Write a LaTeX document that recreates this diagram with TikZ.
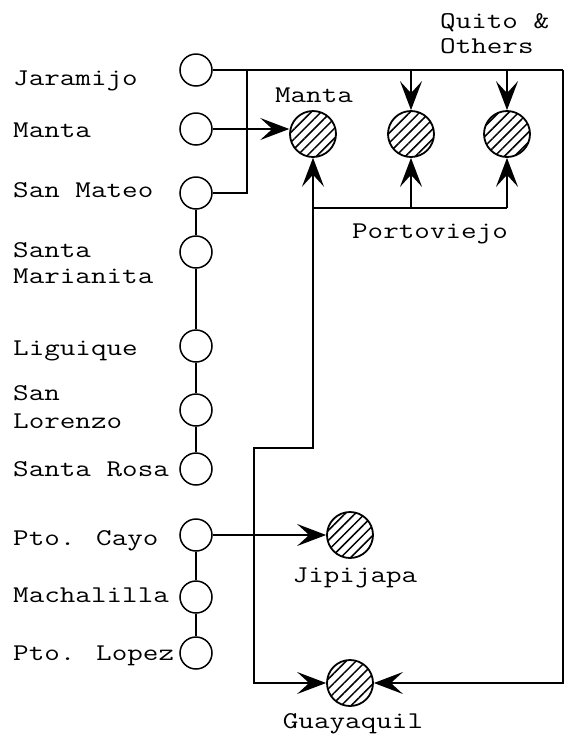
\documentclass[tikz,border=0pt]{standalone}
\usepackage{graphicx}
\usetikzlibrary{arrows.meta,patterns.meta}
\newcommand\wideT[1]{\scalebox{1.26}[1]{#1}}
\begin{document}
\begin{tikzpicture}[x=1pt,y=-1pt,
  town/.style={circle,draw,line width=1.5pt,minimum size=32pt,inner sep=0pt},
  city/.style={circle,draw,line width=1.8pt,minimum size=46pt,inner sep=0pt,
    pattern={Lines[angle=45,distance=7pt,line width=1.5pt]}},
  lbl/.style={font=\ttfamily\fontsize{24}{26}\selectfont,inner sep=0pt},
  wire/.style={line width=1.5pt},
  >={Stealth[length=29pt,width=22pt,inset=12pt]},
]
\useasboundingbox (0,0) rectangle (565,740);
% coastal towns
\node[town] (jar) at (196,70) {};
\node[town] (man) at (196,129) {};
\node[town] (smt) at (196,193) {};
\node[town] (smr) at (196,252) {};
\node[town] (lig) at (196,346) {};
\node[town] (slo) at (196,410) {};
\node[town] (sro) at (196,469) {};
\node[town] (pca) at (196,535) {};
\node[town] (mac) at (196,597) {};
\node[town] (plo) at (196,653) {};
% markets
\node[city] (hma) at (313,134) {};
\node[city] (hpo) at (411,134) {};
\node[city] (hqu) at (507,134) {};
\node[city] (hji) at (350,535) {};
\node[city] (hgu) at (350,683) {};
% labels
\node[lbl,anchor=base west] (ljar) at (13,85) {\wideT{Jaramijo}};
\node[lbl,anchor=base west] (lman) at (13,137) {\wideT{Manta}};
\node[lbl,anchor=base west] (lsmt) at (13,197) {\wideT{San Mateo}};
\node[lbl,anchor=base west,align=left] (lsmr) at (13,283) {\wideT{Santa}\\\wideT{Marianita}};
\node[lbl,anchor=base west] (llig) at (13,355) {\wideT{Liguique}};
\node[lbl,anchor=base west,align=left] (lslo) at (13,428) {\wideT{San}\\[2pt]\wideT{Lorenzo}};
\node[lbl,anchor=base west] (lsro) at (13,476) {\wideT{Santa Rosa}};
\node[lbl,anchor=base west] (lpca) at (13,545) {\wideT{Pto. Cayo}};
\node[lbl,anchor=base west] (lmac) at (13,602) {\wideT{Machalilla}};
\node[lbl,anchor=base west] (lplo) at (13,660) {\wideT{Pto. Lopez}};
\node[lbl,anchor=base] (lhma) at (314,102) {\wideT{Manta}};
\node[lbl,anchor=base west,align=left] (lhqu) at (440,53) {\wideT{Quito \&}\\[-1pt]\wideT{Others}};
\node[lbl,anchor=base] (lhpo) at (430,238) {\wideT{Portoviejo}};
\node[lbl,anchor=base] (lhji) at (355,582) {\wideT{Jipijapa}};
\node[lbl,anchor=base] (lhgu) at (353,728) {\wideT{Guayaquil}};
% junction points
\coordinate (tr) at (563,70);
\coordinate (jv) at (247,70);
\coordinate (tp) at (411,70);
\coordinate (tq) at (507,70);
\coordinate (p1) at (313,208);
\coordinate (p2) at (411,208);
\coordinate (p3) at (507,208);
\coordinate (g1) at (254,448);
% connectors
\draw[wire] (smt) -- (smr) -- (lig) -- (slo) -- (sro);
\draw[wire] (pca) -- (mac) -- (plo);
\draw[wire] (jar.east) -- (tr);
\draw[wire,->] (tr) |- (hgu.east);
\draw[wire] (smt.east) -| (jv);
\draw[wire,->] (man.east) -- (man.east -| hma.west);
\draw[wire,->] (tp) -- (hpo.north);
\draw[wire,->] (tq) -- (hqu.north);
\draw[wire] (p1) -- (p3);
\draw[wire,->] (p2) -- (hpo.south);
\draw[wire,->] (p3) -- (hqu.south);
\draw[wire,<->] (hgu.west) -| (g1) -| (hma.south);
\draw[wire,->] (pca.east) -- (hji.west);
\end{tikzpicture}
\end{document}
